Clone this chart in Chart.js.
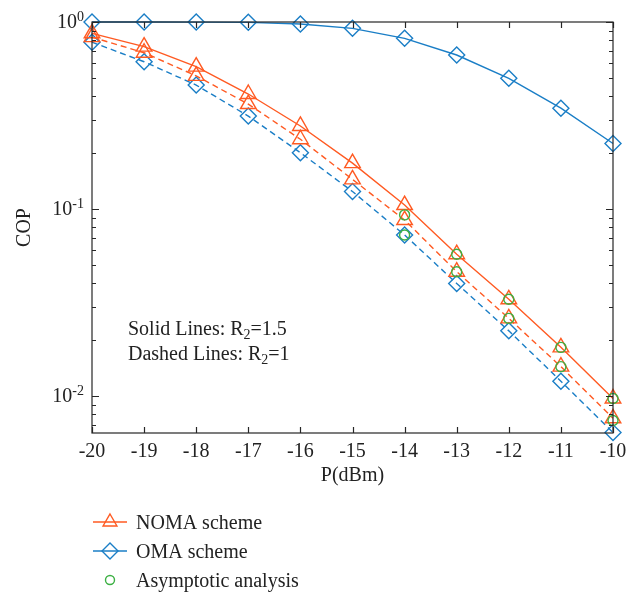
<!DOCTYPE html>
<html>
<head>
<meta charset="utf-8">
<script src="https://cdn.jsdelivr.net/npm/chart.js@4.4.1/dist/chart.umd.min.js"></script>
<style>
  html, body { margin: 0; padding: 0; background: #fff; }
  #wrap { width: 627px; height: 595px; }
</style>
</head>
<body>
<div id="wrap"><canvas id="cop" width="627" height="595"></canvas></div>
<script>
// COP vs transmit power, NOMA vs OMA, log y axis

const powerDbm = [-20, -19, -18, -17, -16, -15, -14, -13, -12, -11, -10];
const nomaSolid = [0.87, 0.738, 0.577, 0.412, 0.278, 0.176, 0.105, 0.0573, 0.0329, 0.0182, 0.0097];
const nomaDashed = [0.83, 0.685, 0.515, 0.364, 0.236, 0.144, 0.0873, 0.0462, 0.026, 0.01435, 0.0076];
const omaSolid = [0.9999, 0.9998, 0.999, 0.996, 0.975, 0.925, 0.818, 0.666, 0.50, 0.346, 0.224];
const omaDashed = [0.78, 0.613, 0.46, 0.314, 0.20, 0.124, 0.0726, 0.040, 0.0223, 0.012, 0.00637];
const asymPower = [-14, -13, -12, -11, -10];
const asymSolid = [0.093, 0.0573, 0.0329, 0.0182, 0.0097];
const asymDashed = [0.0726, 0.0462, 0.026, 0.01435, 0.0074];
const xTicks = [-20, -19, -18, -17, -16, -15, -14, -13, -12, -11, -10];
const yDecades = [-2, -1, 0];

const ORANGE = '#ff5a22';
const BLUE = '#1a7ec6';
const GREEN = '#3cb043';
const AXIS = '#262626';
const FONT = '"Liberation Serif", "DejaVu Serif", serif';

function pts(xs, ys) {
  return xs.map((x, i) => ({ x: x, y: ys[i] }));
}

function lineSet(label, ys, color, style, radius, dashed) {
  return {
    label: label,
    data: pts(powerDbm, ys),
    borderColor: color,
    backgroundColor: 'transparent',
    borderWidth: 1.4,
    borderDash: dashed ? [6, 4] : [],
    pointStyle: style,
    pointRadius: radius,
    pointBorderColor: color,
    pointBackgroundColor: 'transparent',
    pointBorderWidth: 1.4,
    tension: 0,
    clip: false,
    order: 2
  };
}

function circleSet(label, ys) {
  return {
    label: label,
    data: pts(asymPower, ys),
    showLine: false,
    pointStyle: 'circle',
    pointRadius: 5,
    pointBorderColor: GREEN,
    pointBackgroundColor: 'transparent',
    pointBorderWidth: 1.4,
    clip: false,
    order: 0
  };
}

// frame, inward ticks, labels, note and legend
const decorations = {
  id: 'decorations',
  afterDraw(chart) {
    const ctx = chart.ctx;
    const a = chart.chartArea;
    const xs = chart.scales.x;
    const ys = chart.scales.y;
    ctx.save();
    ctx.strokeStyle = AXIS;
    ctx.lineWidth = 1.2;
    ctx.strokeRect(a.left, a.top, a.right - a.left, a.bottom - a.top);

    ctx.beginPath();
    xTicks.forEach(v => {
      const px = Math.round(xs.getPixelForValue(v)) + 0.5;
      ctx.moveTo(px, a.bottom); ctx.lineTo(px, a.bottom - 6);
      ctx.moveTo(px, a.top); ctx.lineTo(px, a.top + 6);
    });
    const minLog = Math.log10(ys.min);
    for (let d = Math.floor(minLog); d <= 0; d++) {
      for (let m = 1; m <= 9; m++) {
        const v = m * Math.pow(10, d);
        if (v < ys.min - 1e-9 || v > ys.max + 1e-9) continue;
        const py = Math.round(ys.getPixelForValue(v)) + 0.5;
        const len = m === 1 ? 7 : 4;
        ctx.moveTo(a.left, py); ctx.lineTo(a.left + len, py);
        ctx.moveTo(a.right, py); ctx.lineTo(a.right - len, py);
      }
    }
    ctx.stroke();

    ctx.fillStyle = '#222';
    ctx.font = '20px ' + FONT;
    ctx.textAlign = 'center';
    ctx.textBaseline = 'alphabetic';
    xTicks.forEach(v => {
      ctx.fillText(String(v), xs.getPixelForValue(v), a.bottom + 24);
    });

    yDecades.forEach(d => {
      const py = ys.getPixelForValue(Math.pow(10, d));
      ctx.font = '14px ' + FONT;
      const sup = String(d);
      const supW = ctx.measureText(sup).width;
      ctx.font = '20px ' + FONT;
      const baseW = ctx.measureText('10').width;
      const right = a.left - 8;
      ctx.textAlign = 'left';
      ctx.fillText('10', right - supW - baseW, py + 6);
      ctx.font = '14px ' + FONT;
      ctx.fillText(sup, right - supW, py - 1);
    });

    ctx.font = '20px ' + FONT;
    ctx.textAlign = 'center';
    ctx.fillText('P(dBm)', (a.left + a.right) / 2, a.bottom + 48);
    ctx.save();
    ctx.translate(30, (a.top + a.bottom) / 2);
    ctx.rotate(-Math.PI / 2);
    ctx.fillText('COP', 0, 0);
    ctx.restore();

    // note with subscripts
    ctx.textAlign = 'left';
    function subText(parts, x, y) {
      parts.forEach(p => {
        ctx.font = (p.sub ? '14px ' : '20px ') + FONT;
        ctx.fillText(p.t, x, y + (p.sub ? 4 : 0));
        x += ctx.measureText(p.t).width;
      });
    }
    subText([{ t: 'Solid Lines: R' }, { t: '2', sub: true }, { t: '=1.5' }], 128, 335);
    subText([{ t: 'Dashed Lines: R' }, { t: '2', sub: true }, { t: '=1' }], 128, 360);

    // legend under the axes
    const rows = [
      { text: 'NOMA scheme', color: ORANGE, style: 'triangle', r: 8, line: true, y: 522 },
      { text: 'OMA scheme', color: BLUE, style: 'rectRot', r: 8, line: true, y: 551 },
      { text: 'Asymptotic analysis', color: GREEN, style: 'circle', r: 4.5, line: false, y: 580 }
    ];
    rows.forEach(r => {
      ctx.strokeStyle = r.color;
      ctx.lineWidth = 1.4;
      if (r.line) {
        ctx.beginPath();
        ctx.moveTo(93, r.y); ctx.lineTo(127, r.y);
        ctx.stroke();
      }
      ctx.fillStyle = 'rgba(0,0,0,0)';
      Chart.helpers.drawPoint(ctx, {
        pointStyle: r.style, radius: r.r, borderWidth: 1.4, rotation: 0
      }, 110, r.y);
      ctx.fillStyle = '#222';
      ctx.font = '20px ' + FONT;
      ctx.fillText(r.text, 136, r.y + 7);
    });
    ctx.restore();
  }
};

new Chart(document.getElementById('cop').getContext('2d'), {
  type: 'line',
  data: {
    datasets: [
      lineSet('NOMA scheme', nomaSolid, ORANGE, 'triangle', 9, false),
      lineSet('NOMA scheme dashed', nomaDashed, ORANGE, 'triangle', 9, true),
      lineSet('OMA scheme', omaSolid, BLUE, 'rectRot', 8, false),
      lineSet('OMA scheme dashed', omaDashed, BLUE, 'rectRot', 8, true),
      circleSet('Asymptotic analysis', asymSolid),
      circleSet('Asymptotic analysis dashed', asymDashed)
    ]
  },
  options: {
    responsive: false,
    animation: false,
    layout: { padding: { left: 92, right: 14, top: 22, bottom: 162 } },
    plugins: { legend: { display: false }, tooltip: { enabled: false } },
    scales: {
      x: {
        type: 'linear', min: -20, max: -10,
        grid: { display: false, drawTicks: false },
        border: { display: false },
        ticks: { display: false }
      },
      y: {
        type: 'logarithmic', min: 0.00634, max: 1,
        grid: { display: false, drawTicks: false },
        border: { display: false },
        ticks: { display: false }
      }
    }
  },
  plugins: [decorations]
});
</script>
</body>
</html>
